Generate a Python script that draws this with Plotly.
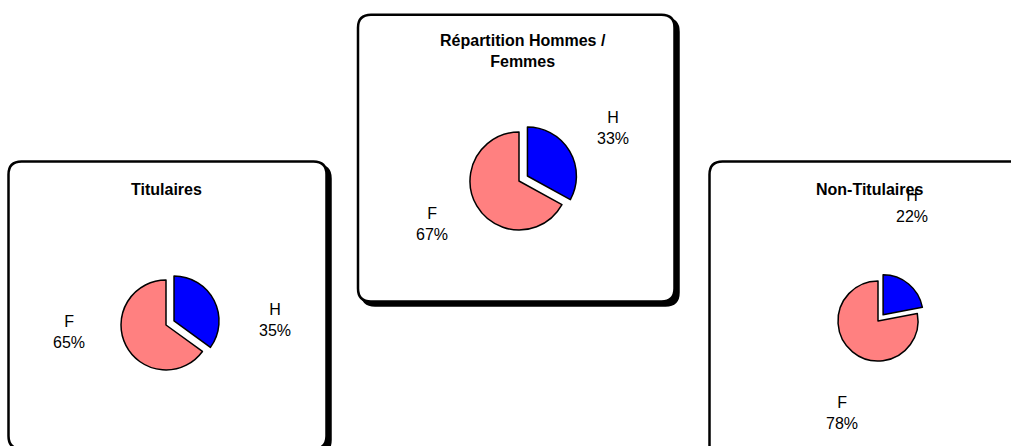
import plotly.graph_objects as go

W, H = 1011, 446

# ---- data ----
slice_labels = ["H", "F"]
titulaires = [35, 65]
repartition = [33, 67]
non_titulaires = [22, 78]
chart_titles = ["Titulaires", "Répartition Hommes /<br>Femmes", "Non-Titulaires"]

colors = ["#0000FF", "#FF8080"]
FONT = "Arial, 'Liberation Sans', sans-serif"

def px(x):
    return x / W

def py(y):
    return 1 - y / H

# layout of the three panels (pixel units)
panels = [
    dict(values=titulaires, box=(8.5, 161.5, 326.5, 449), pie=(166, 325, 45),
         title=(166.5, 189), lab_H=(275, 320), lab_F=(69, 332)),
    dict(values=repartition, box=(358, 14.7, 674.5, 301.5), pie=(519, 181, 49),
         title=(523, 51), lab_H=(613, 128), lab_F=(432, 224)),
    dict(values=non_titulaires, box=(709.5, 161.5, 1040, 470), pie=(878, 321, 40),
         title=(869, 189), lab_H=(912, 206), lab_F=(842, 413)),
]
PULL = 0.2

def rrect(x0, y0, x1, y1, r=13):
    return (f"M {x0+r},{y0} L {x1-r},{y0} Q {x1},{y0} {x1},{y0+r} "
            f"L {x1},{y1-r} Q {x1},{y1} {x1-r},{y1} L {x0+r},{y1} "
            f"Q {x0},{y1} {x0},{y1-r} L {x0},{y0+r} Q {x0},{y0} {x0+r},{y0} Z")

fig = go.Figure()
shapes = []
annotations = []
for i, p in enumerate(panels):
    x0, y0, x1, y1 = p["box"]
    shapes.append(dict(type="path", path=rrect(x0 + 4, y0 + 4, x1 + 4, y1 + 4),
                       xref="x", yref="y", fillcolor="black",
                       line=dict(color="black", width=2.5), layer="below"))
    shapes.append(dict(type="path", path=rrect(x0, y0, x1, y1),
                       xref="x", yref="y", fillcolor="white",
                       line=dict(color="black", width=2.5), layer="below"))
    cx, cy, r = p["pie"]
    half = r * (1 + PULL)
    fig.add_trace(go.Pie(
        labels=slice_labels, values=p["values"], sort=False,
        direction="clockwise", rotation=0, pull=[PULL, 0],
        marker=dict(colors=colors, line=dict(color="black", width=1.5)),
        textinfo="none", hoverinfo="label+percent", showlegend=False,
        domain=dict(x=[px(cx - half), px(cx + half)],
                    y=[py(cy + half), py(cy - half)]),
    ))
    tx, ty = p["title"]
    annotations.append(dict(x=tx, y=ty, xref="x", yref="y", text=f"<b>{chart_titles[i]}</b>",
                            showarrow=False, font=dict(family=FONT, size=16, color="black"),
                            xanchor="center", yanchor="middle"))
    tot = sum(p["values"])
    for lab, v, pos in zip(slice_labels, p["values"], (p["lab_H"], p["lab_F"])):
        annotations.append(dict(x=pos[0], y=pos[1], xref="x", yref="y",
                                text=f"{lab}<br>{round(100 * v / tot)}%",
                                showarrow=False, font=dict(family=FONT, size=16, color="black"),
                                xanchor="center", yanchor="middle"))

fig.update_layout(
    width=W, height=H, margin=dict(l=0, r=0, t=0, b=0),
    paper_bgcolor="white", plot_bgcolor="white",
    xaxis=dict(range=[0, W], visible=False, fixedrange=True),
    yaxis=dict(range=[H, 0], visible=False, fixedrange=True),
    shapes=shapes, annotations=annotations,
)
fig.write_html(
    "out.html",
    config={"displayModeBar": False},
    post_script="document.body.style.margin='0';document.body.style.overflow='hidden';",
)
